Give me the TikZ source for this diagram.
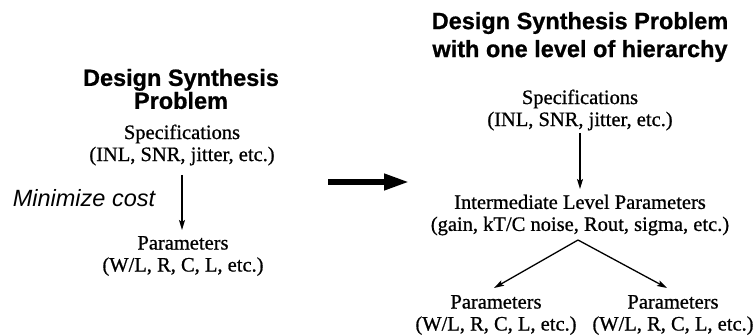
\documentclass[tikz,border=0pt]{standalone}
\usepackage{fontspec}
\setmainfont{Liberation Serif}
\newfontfamily\heavyserif{Liberation Serif}[FakeBold=0.8]
\newfontfamily\hsans{Liberation Sans}[FakeBold=0.8]
\newfontfamily\isans{Liberation Sans}
\usetikzlibrary{arrows.meta}
\tikzset{
  body/.style={align=center, inner sep=0pt, font=\heavyserif\fontsize{20.5}{22}\selectfont},
  ttl/.style={align=center, inner sep=0pt, font=\hsans\bfseries\fontsize{23.5}{28}\selectfont},
  thin/.style={line width=1.3pt, -{Stealth[length=10pt,width=6pt,inset=2pt]}},
  fat/.style={line width=6.5pt, -{Triangle[length=26pt,width=15pt]}}
}
\begin{document}
\begin{tikzpicture}[x=1pt,y=-1pt]
\useasboundingbox (0,0) rectangle (755,336);
% left
\node[ttl, font=\hsans\bfseries\fontsize{23.5}{18.5}\selectfont] (ltitle) at (181,89) {Design Synthesis\\Problem};
\node[body] (lspec) at (182,145) {Specifications\\(INL, SNR, jitter, etc.)};
\node[body] (lparam) at (183,256) {Parameters\\(W/L, R, C, L, etc.)};
\node[inner sep=0pt, font=\isans\itshape\fontsize{23.5}{28}\selectfont] (cost) at (84,198) {Minimize cost};
\coordinate (la) at (182,175);
\coordinate (lb) at (182,230);
\draw[thin] (la) -- (lb);
% big arrow
\coordinate (ba) at (328,182);
\coordinate (bb) at (410,182);
\draw[fat] (ba) -- (bb);
% right
\node[ttl] (rtitle) at (580,37) {Design Synthesis Problem\\with one level of hierarchy};
\node[body] (rspec) at (580,110) {Specifications\\(INL, SNR, jitter, etc.)};
\node[body] (rint) at (580,215) {Intermediate Level Parameters\\(gain, kT/C noise, Rout, sigma, etc.)};
\node[body] (rp1) at (496,315) {Parameters\\(W/L, R, C, L, etc.)};
\node[body] (rp2) at (673,315) {Parameters\\(W/L, R, C, L, etc.)};
\coordinate (ra) at (580,133);
\coordinate (rb) at (580,189);
\draw[thin] (ra) -- (rb);
\coordinate (apex) at (578,240);
\coordinate (f1) at (494,288);
\coordinate (f2) at (667,288);
\draw[thin] (apex) -- (f1);
\draw[thin] (apex) -- (f2);
\end{tikzpicture}
\end{document}
